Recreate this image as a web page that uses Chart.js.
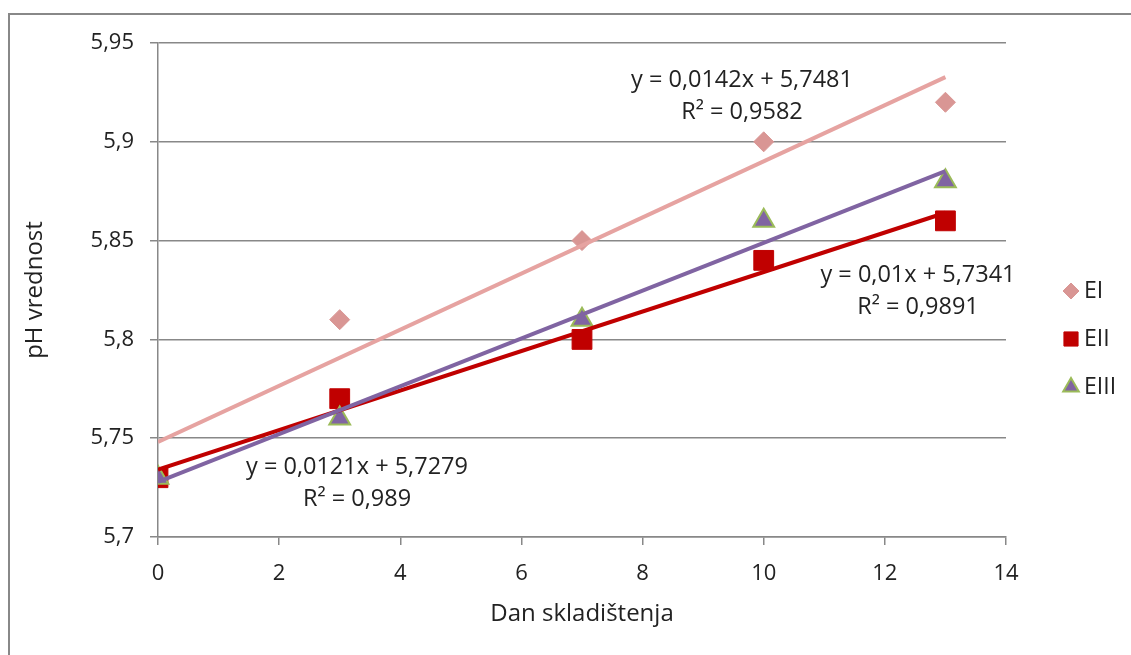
<!DOCTYPE html>
<html><head><meta charset="utf-8">
<script src="https://cdn.jsdelivr.net/npm/chart.js@4"></script>
<style>html,body{margin:0;padding:0;background:#fff}#wrap{width:1131px;height:655px;position:relative}</style>
</head><body><div id="wrap"><canvas id="c" width="1131" height="655"></canvas></div>
<script>
const days = [0, 3, 7, 10, 13];
const seriesNames = ['EI', 'EII', 'EIII'];
const EI = [5.73, 5.81, 5.85, 5.90, 5.92];
const EII = [5.73, 5.77, 5.80, 5.84, 5.86];
const EIII = [5.73, 5.76, 5.81, 5.86, 5.88];
const slopes = [0.0142, 0.01, 0.0121];
const intercepts = [5.7481, 5.7341, 5.7279];
const r2 = ['0,9582', '0,9891', '0,989'];
const trendRange = [0, 13];
const yTicks = [5.7, 5.75, 5.8, 5.85, 5.9, 5.95];
const xTicks = [0, 2, 4, 6, 8, 10, 12, 14];

const FONT = '"Open Sans", "Liberation Sans", sans-serif';
const fmt = v => String(Math.round(v * 100) / 100).replace('.', ',');
const fmtNum = v => String(v).replace('.', ',');

const markerStyle = [
  {pointStyle: 'rectRot', radius: 10, bg: '#D99694', border: '#D99694', bw: 1},
  {pointStyle: 'rect', radius: 14, bg: '#C00000', border: '#C00000', bw: 1},
  {pointStyle: 'triangle', radius: 12, bg: '#8064A2', border: '#9BBB59', bw: 2}
];
const trendColors = ['#E6A3A1', '#C00000', '#8064A2'];
const vals = [EI, EII, EIII];

const datasets = [];
seriesNames.forEach((n, i) => {
  datasets.push({
    label: n + ' trend',
    data: trendRange.map(x => ({x, y: slopes[i] * x + intercepts[i]})),
    borderColor: trendColors[i],
    borderWidth: 4,
    pointRadius: 0,
    showLine: true,
    order: 2 - i
  });
});
seriesNames.forEach((n, i) => {
  const m = markerStyle[i];
  datasets.push({
    label: n,
    data: days.map((d, k) => ({x: d, y: vals[i][k]})),
    pointStyle: m.pointStyle,
    pointRadius: m.radius,
    pointBackgroundColor: m.bg,
    pointBorderColor: m.border,
    pointBorderWidth: m.bw,
    backgroundColor: m.bg,
    borderColor: m.border,
    showLine: false,
    order: 5 - i
  });
});

const labelPos = [
  {x: 742, y: 80},
  {x: 918, y: 275},
  {x: 357, y: 467}
];

const extras = {
  id: 'extras',
  beforeDraw(chart) {
    const ctx = chart.ctx;
    ctx.save();
    ctx.strokeStyle = '#888';
    ctx.lineWidth = 2;
    ctx.beginPath();
    ctx.moveTo(9, 655); ctx.lineTo(9, 14); ctx.lineTo(1131, 14);
    ctx.stroke();
    ctx.restore();
  },
  afterDraw(chart) {
    const ctx = chart.ctx;
    ctx.save();
    ctx.fillStyle = '#222';
    ctx.font = '23.5px ' + FONT;
    ctx.textAlign = 'center';
    ctx.textBaseline = 'middle';
    labelPos.forEach((p, i) => {
      ctx.fillText('y = ' + fmtNum(slopes[i]) + 'x + ' + fmtNum(intercepts[i]), p.x, p.y);
      ctx.fillText('R² = ' + r2[i], p.x, p.y + 32);
    });
    const ly = [291, 339, 387];
    seriesNames.forEach((n, i) => {
      const m = markerStyle[i];
      const r = [8, 10, 9][i];
      ctx.fillStyle = m.bg; ctx.strokeStyle = m.border; ctx.lineWidth = m.bw;
      Chart.helpers.drawPoint(ctx, {pointStyle: m.pointStyle, radius: r, borderWidth: m.bw}, 1071, ly[i]);
      ctx.fillStyle = '#222';
      ctx.textAlign = 'left';
      ctx.font = '23px ' + FONT;
      ctx.fillText(n, 1084, ly[i]);
    });
    ctx.restore();
  }
};

new Chart(document.getElementById('c'), {
  type: 'scatter',
  data: {datasets},
  options: {
    responsive: false,
    animation: false,
    devicePixelRatio: 1,
    layout: {padding: {left: 0, top: 43, right: 125, bottom: 0}},
    plugins: {legend: {display: false}, tooltip: {enabled: false}},
    scales: {
      x: {
        type: 'linear', min: 0, max: 14,
        afterFit(s) { s.height = 118; },
        afterBuildTicks(s) { s.ticks = xTicks.map(v => ({value: v})); },
        grid: {drawOnChartArea: false, drawTicks: true, tickLength: 8, color: '#888', lineWidth: 1.5},
        border: {display: true, color: '#888', width: 1.5},
        ticks: {color: '#222', font: {family: FONT, size: 22}, padding: 16, maxRotation: 0},
        title: {display: true, text: 'Dan skladištenja', color: '#222', font: {family: FONT, size: 24}, padding: {top: 0, bottom: 26}}
      },
      y: {
        type: 'linear', min: 5.7, max: 5.95,
        afterFit(s) { s.width = 158; },
        afterBuildTicks(s) { s.ticks = yTicks.map(v => ({value: v})); },
        grid: {color: '#888', lineWidth: 1.5, tickLength: 8},
        border: {display: true, color: '#888', width: 1.5},
        ticks: {color: '#222', font: {family: FONT, size: 22}, padding: 16, callback: v => fmt(v)},
        title: {display: true, text: 'pH vrednost', color: '#222', font: {family: FONT, size: 24}, padding: {top: 21, bottom: 0}}
      }
    }
  },
  plugins: [extras]
});
</script>
</body></html>
